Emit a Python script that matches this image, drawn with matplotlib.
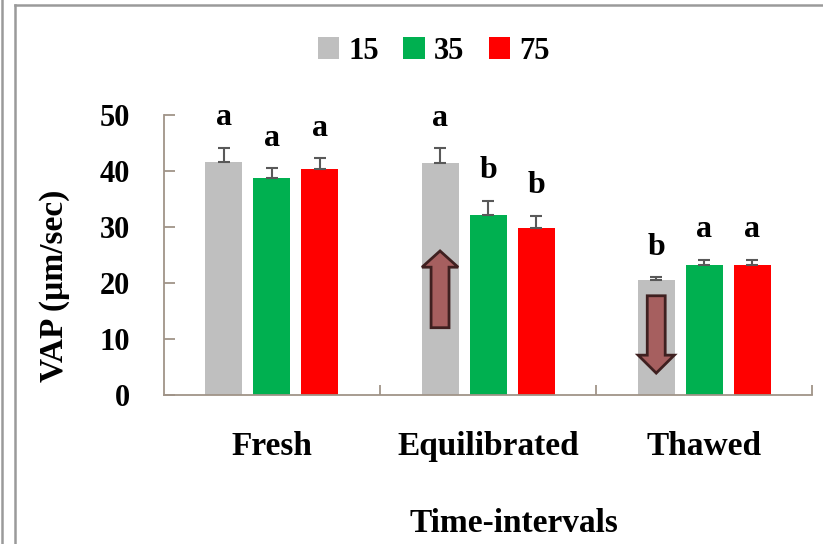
import numpy as np
import matplotlib
matplotlib.use("Agg")
from matplotlib import pyplot as plt
from matplotlib.patches import FancyArrow
from matplotlib.lines import Line2D

# average path velocity per time interval, one list per concentration
groups = ["Fresh", "Equilibrated", "Thawed"]
series_names = ["15", "35", "75"]
vap_15 = [41.5, 41.4, 20.5]
vap_35 = [38.8, 32.1, 23.2]
vap_75 = [40.4, 29.8, 23.2]
err_15 = [2.6, 2.65, 0.5]
err_35 = [1.65, 2.55, 0.9]
err_75 = [1.9, 2.2, 0.9]
letters_15 = ["a", "a", "b"]
letters_35 = ["a", "b", "a"]
letters_75 = ["a", "b", "a"]

colors = ["#bfbfbf", "#00b050", "#ff0000"]
spine_color = "#a09488"
serif = ["Liberation Serif", "DejaVu Serif"]

plt.rcParams["font.family"] = serif
plt.rcParams["font.weight"] = "bold"

fig = plt.figure(figsize=(8.23, 5.44), dpi=100)
ax = fig.add_axes([0.199, 0.274, 0.788, 0.515])

x = np.arange(len(groups))
width = 0.171
step = 0.222

all_vals = [vap_15, vap_35, vap_75]
all_errs = [err_15, err_35, err_75]
all_letters = [letters_15, letters_35, letters_75]

for i, (vals, errs, lets) in enumerate(zip(all_vals, all_errs, all_letters)):
    pos = x + (i - 1) * step
    ax.bar(pos, vals, width, color=colors[i], label=series_names[i], zorder=2)
    ax.errorbar(pos, vals, yerr=[np.zeros(len(errs)), errs], fmt="none",
                ecolor="#595959", elinewidth=1.5, capsize=4.5, capthick=1.5,
                zorder=3)
    for p, v, e, t in zip(pos, vals, errs, lets):
        ax.text(p, v + e + 4, t, ha="center", va="baseline",
                fontsize=23, fontweight="bold")

# arrows on the 15 bars: rise after equilibration, drop after thawing
arrow_kw = dict(width=0.083, head_width=0.167, length_includes_head=True,
                facecolor="#a65f5f", edgecolor="#3f2020", linewidth=2,
                zorder=4)
ax.add_patch(FancyArrow(x[1] - step, 12.0, 0, 13.7, head_length=2.9, **arrow_kw))
ax.add_patch(FancyArrow(x[2] - step, 17.7, 0, -13.8, head_length=3.2, **arrow_kw))

ax.set_xlim(-0.5, 2.5)
ax.set_ylim(0, 50)
ax.set_yticks(range(0, 51, 10))
ax.set_xticks(x)
ax.set_xticklabels(groups)
ax.set_xticks([0.5, 1.5, 2.5], minor=True)

for side in ["top", "right"]:
    ax.spines[side].set_visible(False)
for side in ["left", "bottom"]:
    ax.spines[side].set_color(spine_color)
    ax.spines[side].set_linewidth(1.3)

ax.tick_params(axis="y", direction="in", length=8, width=1.3,
               color=spine_color, pad=24, labelsize=22)
ax.tick_params(axis="x", which="major", length=0, pad=26, labelsize=24)
ax.tick_params(axis="x", which="minor", direction="in", length=7,
               width=1.3, color=spine_color)

ax.set_ylabel("VAP (µm/sec)", fontsize=24, fontweight="bold")
ax.yaxis.set_label_coords(-0.145, 0.39)
ax.set_xlabel("Time-intervals", fontsize=24, fontweight="bold")
ax.xaxis.set_label_coords(0.54, -0.405)

fig.legend(loc="center", bbox_to_anchor=(0.527, 0.906), ncol=3,
           frameon=False, fontsize=22, handlelength=0.7, handleheight=0.7,
           handletextpad=0.3, columnspacing=0.8)

# outer frame lines around the chart area
fig.add_artist(Line2D([0.0024, 0.0024], [0, 1], color="#9a9a9a", lw=1.8))
fig.add_artist(Line2D([0.018, 0.018], [0, 0.991], color="#9a9a9a", lw=1.8))
fig.add_artist(Line2D([0.018, 1], [0.991, 0.991], color="#9a9a9a", lw=1.8))

fig.savefig("out.png", dpi=100)
